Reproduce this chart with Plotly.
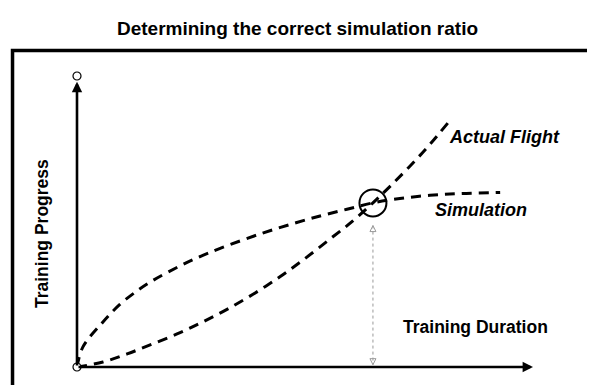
import plotly.graph_objects as go

# readings in chart units (duration 0-10, progress 0-10)
sim_x = [0, 0.13, 0.57, 0.94, 1.32, 1.67, 2.19, 2.63, 3.18, 4.01, 4.74, 5.33, 5.92, 6.49, 7.08, 7.74, 8.40, 9.28]
sim_y = [0, 0.69, 1.55, 2.15, 2.62, 2.98, 3.42, 3.75, 4.10, 4.57, 4.93, 5.19, 5.42, 5.64, 5.79, 5.90, 5.96, 6.00]

flight_x = [0, 0.57, 1.10, 1.67, 2.26, 2.76, 3.29, 3.86, 4.45, 4.96, 5.55, 6.05, 6.49, 6.86, 7.30, 7.74, 8.14]
flight_y = [0, 0.17, 0.45, 0.80, 1.18, 1.55, 1.98, 2.50, 3.10, 3.68, 4.40, 5.02, 5.64, 6.20, 6.90, 7.65, 8.40]

cross_x, cross_y = 6.49, 5.64
axis_len = 10

BLACK = "#000000"
FONT = "Arial, Liberation Sans, sans-serif"

fig = go.Figure()

dash_line = dict(color=BLACK, width=3, dash="10px,7px", shape="spline", smoothing=1)
fig.add_trace(go.Scatter(x=sim_x, y=sim_y, mode="lines", line=dash_line,
                         name="Simulation", showlegend=False, hoverinfo="skip"))
fig.add_trace(go.Scatter(x=flight_x, y=flight_y, mode="lines", line=dash_line,
                         name="Actual Flight", showlegend=False, hoverinfo="skip"))

# dotted marker from the crossing down to the duration axis
fig.add_trace(go.Scatter(x=[cross_x, cross_x], y=[cross_y - 0.78, 0.08], mode="lines+markers",
                         line=dict(color="#9a9a9a", width=1, dash="dot"),
                         marker=dict(symbol=["arrow-up-open", "arrow-down-open"], size=6,
                                     color="#9a9a9a", line=dict(width=1, color="#8a8a8a")),
                         showlegend=False, hoverinfo="skip", cliponaxis=False))

# crossing circle
fig.add_trace(go.Scatter(x=[cross_x], y=[cross_y], mode="markers",
                         marker=dict(symbol="circle-open", size=27, color=BLACK, line=dict(width=2, color=BLACK)),
                         showlegend=False, hoverinfo="skip", cliponaxis=False))

# axis arrows
for tip in [(axis_len, 0), (0, axis_len - 0.2)]:
    fig.add_annotation(x=tip[0], y=tip[1], ax=0, ay=0, xref="x", yref="y", axref="x", ayref="y",
                       showarrow=True, arrowhead=2, arrowsize=0.8, arrowwidth=2.6, arrowcolor=BLACK, text="")

# axis end circles
fig.add_trace(go.Scatter(x=[0, 0], y=[0, axis_len], mode="markers",
                         marker=dict(symbol="circle", size=8, color="white", line=dict(width=1.2, color=BLACK)),
                         showlegend=False, hoverinfo="skip", cliponaxis=False))

# frame (clipped by the right and bottom page edges)
fig.add_shape(type="rect", xref="paper", yref="paper", x0=-0.1414, y0=-0.09, x1=1.17, y1=1.0876,
              line=dict(color=BLACK, width=3.5), layer="below")

fig.add_annotation(x=8.11, y=7.90, text="<b><i>Actual Flight</i></b>", showarrow=False,
                   xanchor="left", yanchor="middle", font=dict(family=FONT, size=18, color=BLACK))
fig.add_annotation(x=7.81, y=5.40, text="<b><i>Simulation</i></b>", showarrow=False,
                   xanchor="left", yanchor="middle", font=dict(family=FONT, size=18, color=BLACK))
fig.add_annotation(x=8.73, y=1.37, text="<b>Training Duration</b>", showarrow=False,
                   xanchor="center", yanchor="middle", font=dict(family=FONT, size=17.5, color=BLACK))
fig.add_annotation(x=-0.077, y=0.46, xref="paper", yref="paper", text="<b>Training Progress</b>",
                   showarrow=False, textangle=-90, xanchor="center", yanchor="middle",
                   font=dict(family=FONT, size=17.5, color=BLACK))

# the page body adds an 8px offset, margins below account for it
fig.update_layout(
    width=595, height=385,
    margin=dict(l=69, r=70, t=68, b=26),
    paper_bgcolor="white", plot_bgcolor="white",
    title=dict(text="<b>Determining the correct simulation ratio</b>", x=289.5 / 595, xanchor="center",
               xref="container", y=1 - 20 / 385, yanchor="middle", yref="container",
               font=dict(family=FONT, size=19, color=BLACK)),
    xaxis=dict(range=[0, axis_len], visible=False, fixedrange=True),
    yaxis=dict(range=[0, axis_len], visible=False, fixedrange=True),
)

fig.write_html("out.html")
